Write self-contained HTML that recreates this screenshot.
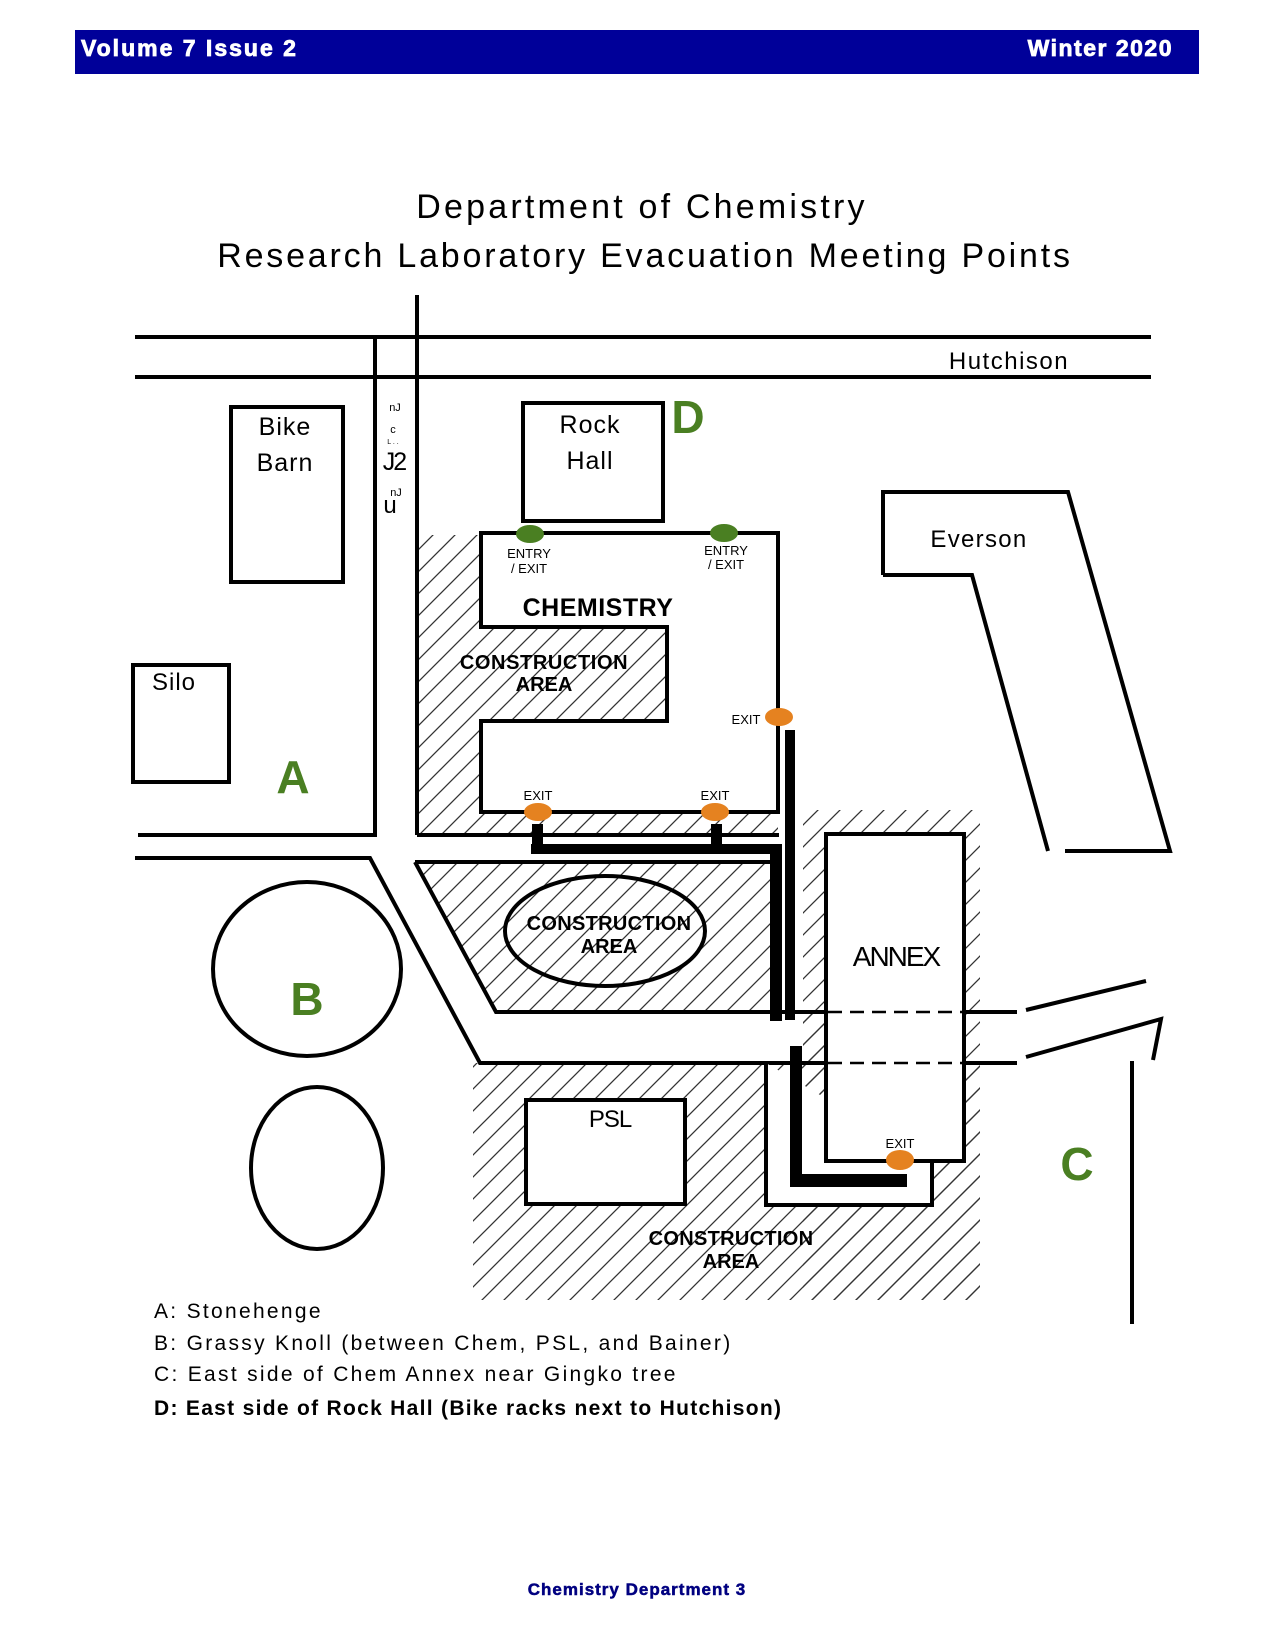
<!DOCTYPE html>
<html><head><meta charset="utf-8"><style>
html,body{margin:0;padding:0;background:#fff}
svg{display:block}
text{font-family:"Liberation Sans",Arial,sans-serif}
</style></head><body>
<svg width="1275" height="1650" viewBox="0 0 1275 1650" xmlns="http://www.w3.org/2000/svg">
<defs>
<pattern id="h" patternUnits="userSpaceOnUse" width="22" height="22">
<path d="M-2,24 L24,-2 M-13,13 L13,-13 M9,35 L35,9" stroke="#333" stroke-width="1.3"/>
</pattern>
</defs>
<!-- header -->
<rect x="75" y="30" width="1124" height="44" fill="#000099"/>
<text x="81" y="56" font-size="23" font-weight="bold" fill="#fff" letter-spacing="2" stroke="#fff" stroke-width="0.8">Volume 7 Issue 2</text>
<text x="1173" y="56" font-size="23" font-weight="bold" fill="#fff" text-anchor="end" letter-spacing="1.5" stroke="#fff" stroke-width="0.8">Winter 2020</text>
<!-- title -->
<text x="642" y="218" font-size="34" text-anchor="middle" fill="#000" letter-spacing="3.2">Department of Chemistry</text>
<text x="645" y="267" font-size="34" text-anchor="middle" fill="#000" letter-spacing="2.8">Research Laboratory Evacuation Meeting Points</text>

<!-- hatch areas -->
<rect x="418" y="535" width="360" height="299" fill="url(#h)"/>
<polygon points="415,862 775,862 775,1012 496,1012" fill="url(#h)"/>
<rect x="803" y="810" width="177" height="490" fill="url(#h)"/>
<rect x="473" y="1063" width="507" height="237" fill="url(#h)"/>
<rect x="803" y="1012" width="23" height="51" fill="url(#h)"/>

<g stroke="#000" stroke-width="4" fill="none">
<!-- roads -->
<line x1="135" y1="337" x2="1151" y2="337"/>
<line x1="135" y1="377" x2="1151" y2="377"/>
<line x1="375" y1="337" x2="375" y2="835"/>
<line x1="417" y1="295" x2="417" y2="835"/>
<line x1="138" y1="835" x2="377" y2="835"/>
<line x1="417" y1="835" x2="779" y2="835"/>
<polyline points="135,858 370,858 480,1063 1017,1063"/>
<polyline points="415,862 782,862"/>
<polyline points="415,862 496,1012 1017,1012"/>
<line x1="1026" y1="1010" x2="1146" y2="981"/>
<polyline points="1026,1057 1161,1019 1153,1060"/>
<line x1="1132" y1="1061" x2="1132" y2="1324"/>
<!-- buildings -->
<rect x="231" y="407" width="112" height="175" fill="#fff"/>
<rect x="133" y="665" width="96" height="117" fill="#fff"/>
<rect x="523" y="403" width="140" height="118" fill="#fff"/>
<polygon points="481,533 778,533 778,812 481,812 481,721 667,721 667,627 481,627" fill="#fff"/>
<polyline points="883,575 883,492 1068,492 1170,851 1065,851"/>
<polyline points="1048,851 972,575 883,575"/>
<ellipse cx="307" cy="969" rx="94" ry="87" fill="#fff"/>
<ellipse cx="317" cy="1168" rx="66" ry="81" fill="#fff"/>
<ellipse cx="605" cy="931" rx="100" ry="55"/>
<polyline points="766,1063 766,1205 932,1205 932,1161" fill="#fff"/>
<rect x="826" y="834" width="138" height="327" fill="#fff"/>
<rect x="526" y="1100" width="159" height="104" fill="#fff"/>
<line x1="964" y1="1012" x2="1017" y2="1012"/>
<line x1="964" y1="1063" x2="1017" y2="1063"/>
</g>
<g stroke="#000" stroke-width="2.5" stroke-dasharray="14,8">
<line x1="828" y1="1012" x2="962" y2="1012"/>
<line x1="828" y1="1063" x2="962" y2="1063"/>
</g>
<!-- evacuation paths -->
<g fill="#000">
<rect x="532" y="824" width="11" height="25"/>
<rect x="711" y="824" width="11" height="25"/>
<rect x="531" y="844" width="251" height="10"/>
<rect x="770" y="844" width="12" height="177"/>
<rect x="785" y="730" width="10" height="290"/>
<rect x="790" y="1046" width="12" height="141"/>
<rect x="790" y="1174" width="117" height="13"/>
</g>
<!-- dots -->
<ellipse cx="530" cy="534" rx="14" ry="9" fill="#4a7f22"/>
<ellipse cx="724" cy="533" rx="14" ry="9" fill="#4a7f22"/>
<ellipse cx="779" cy="717" rx="14" ry="9" fill="#e58220"/>
<ellipse cx="538" cy="812" rx="14" ry="9" fill="#e58220"/>
<ellipse cx="715" cy="812" rx="14" ry="9" fill="#e58220"/>
<ellipse cx="900" cy="1160" rx="14" ry="10" fill="#e58220"/>
<!-- labels -->
<g fill="#000" font-size="25" text-anchor="middle">
<text x="285" y="435" letter-spacing="1">Bike</text>
<text x="285" y="471" letter-spacing="1">Barn</text>
<text x="590" y="433" letter-spacing="1">Rock</text>
<text x="590" y="469" letter-spacing="1">Hall</text>
<text x="1009" y="369" font-size="24" letter-spacing="1.5">Hutchison</text>
<text x="979" y="547" font-size="24" letter-spacing="1.3">Everson</text>
<text x="610" y="1127" font-size="24" letter-spacing="-1">PSL</text>
<text x="896" y="966" font-size="28" font-family="Liberation Serif,serif" letter-spacing="-2">ANNEX</text>
</g>
<text x="152" y="690" font-size="24" letter-spacing="1">Silo</text>
<g font-size="11" text-anchor="middle" fill="#000">
<text x="395" y="411">nJ</text>
<text x="393" y="433">c</text>
<text x="393" y="444" font-size="7">L . .</text>
<text x="394" y="470" font-size="25" font-family="Liberation Serif,serif" letter-spacing="-2">J2</text>
<text x="396" y="496">nJ</text>
<text x="390" y="513" font-size="24">u</text>
</g>
<g font-size="13" text-anchor="middle" fill="#000">
<text x="529" y="558">ENTRY</text>
<text x="529" y="573">/ EXIT</text>
<text x="726" y="555">ENTRY</text>
<text x="726" y="569">/ EXIT</text>
<text x="746" y="724">EXIT</text>
<text x="538" y="800">EXIT</text>
<text x="715" y="800">EXIT</text>
<text x="900" y="1148">EXIT</text>
</g>
<g font-weight="bold" text-anchor="middle" fill="#000">
<text x="598" y="616" font-size="25" letter-spacing="0.5">CHEMISTRY</text>
<text x="544" y="669" font-size="20" letter-spacing="0.6">CONSTRUCTION</text>
<text x="544" y="691" font-size="20">AREA</text>
<text x="609" y="930" font-size="20" letter-spacing="0.3">CONSTRUCTION</text>
<text x="609" y="953" font-size="20">AREA</text>
<text x="731" y="1245" font-size="20" letter-spacing="0.3">CONSTRUCTION</text>
<text x="731" y="1268" font-size="20">AREA</text>
</g>
<g font-weight="bold" font-size="46" fill="#4a7f22" text-anchor="middle">
<text x="293" y="793">A</text>
<text x="307" y="1015">B</text>
<text x="1077" y="1180">C</text>
<text x="688" y="433">D</text>
</g>
<!-- legend -->
<g font-size="21" fill="#000">
<text x="154" y="1318" letter-spacing="2.3">A: Stonehenge</text>
<text x="154" y="1350" letter-spacing="2.3">B: Grassy Knoll (between Chem, PSL, and Bainer)</text>
<text x="154" y="1381" letter-spacing="2.3">C: East side of Chem Annex near Gingko tree</text>
<text x="154" y="1415" font-weight="bold" letter-spacing="1.3">D: East side of Rock Hall (Bike racks next to Hutchison)</text>
</g>
<text x="637" y="1595" font-size="17" font-weight="bold" fill="#000080" text-anchor="middle" letter-spacing="1" stroke="#000080" stroke-width="0.5">Chemistry Department 3</text>
</svg>
</body></html>
